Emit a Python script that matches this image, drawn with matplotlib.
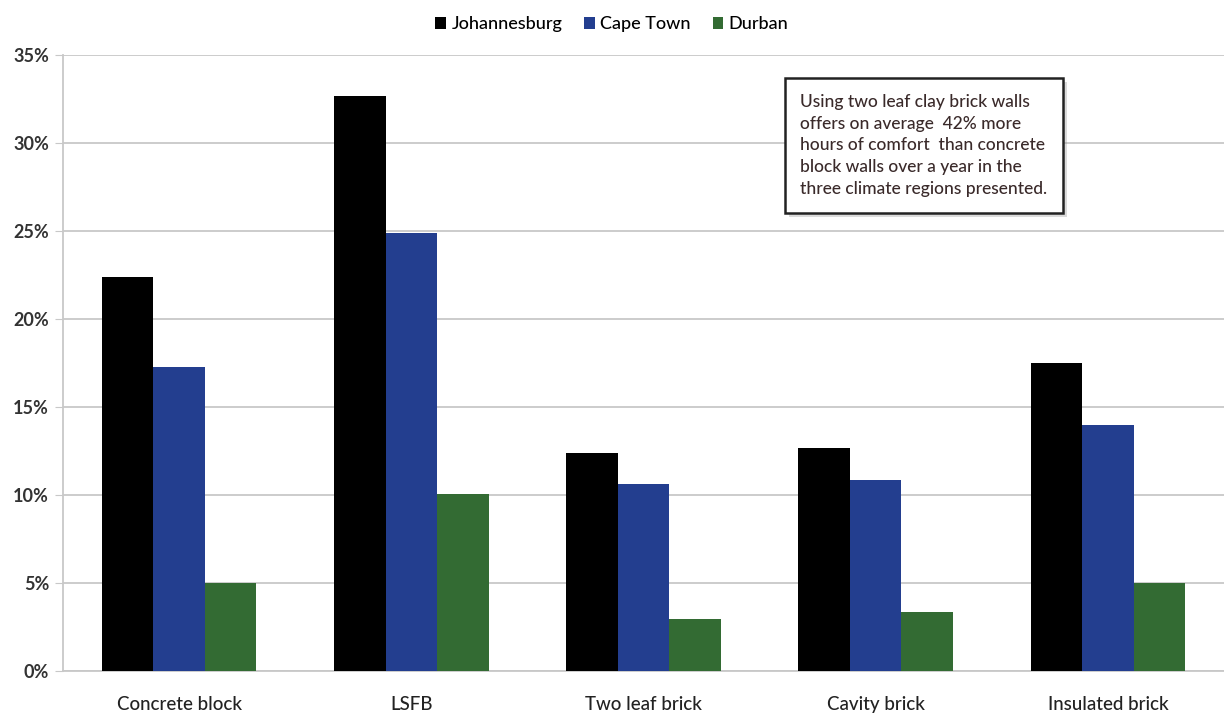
import matplotlib
matplotlib.use('Agg')
import matplotlib.pyplot as plt
import matplotlib.patheffects as pe
import numpy as np
from matplotlib.ticker import PercentFormatter

# Данные
categories = ['Concrete block', 'LSFB', 'Two leaf brick', 'Cavity brick', 'Insulated brick']
johannesburg = [22.4, 32.7, 12.4, 12.7, 17.5]
cape_town = [17.3, 24.9, 10.6, 10.85, 14.0]
durban = [5.0, 10.05, 2.95, 3.35, 5.0]
series_names = ['Johannesburg', 'Cape Town', 'Durban']
colors = ['#000000', '#233E8F', '#336B33']

plt.rcParams['font.family'] = ['Lato', 'DejaVu Sans']

fig = plt.figure(figsize=(12.24, 7.15), dpi=100)
ax = fig.add_axes([0.0515, 0.0615, 0.9485, 0.8615])

x = np.arange(len(categories))
w = 0.222
for i, (vals, name, c) in enumerate(zip([johannesburg, cape_town, durban], series_names, colors)):
    ax.bar(x + (i - 1) * w, vals, width=w, color=c, label=name, zorder=3)

ax.set_xlim(-0.5, len(categories) - 0.5)
ax.set_ylim(0, 35)
ax.set_yticks(np.arange(0, 36, 5))
ax.yaxis.set_major_formatter(PercentFormatter(decimals=0))
ax.set_xticks(x)
ax.set_xticklabels(categories, fontsize=13.5)
ax.grid(axis='y', color='#c8c8c8', linewidth=1.3, zorder=0)
for s in ['top', 'right']:
    ax.spines[s].set_visible(False)
ax.spines['left'].set_color('#c8c8c8')
ax.spines['bottom'].set_color('#c8c8c8')
ax.spines['left'].set_linewidth(1.3)
ax.spines['bottom'].set_linewidth(1.3)
ax.tick_params(axis='y', length=6, color='#c8c8c8', labelsize=13, pad=4)
ax.tick_params(axis='x', length=0, pad=18)
for t in ax.get_yticklabels():
    t.set_fontweight('bold')
    t.set_color('#333333')
for t in ax.get_xticklabels():
    t.set_color('#222222')
    t.set_fontweight('medium')

leg = fig.legend(loc='upper center', bbox_to_anchor=(0.5, 1.0), ncol=3, frameon=False,
                 fontsize=13, handlelength=0.6, handleheight=0.6, handletextpad=0.3,
                 columnspacing=1.2)
for t in leg.get_texts():
    t.set_fontweight('medium')

note = ('Using two leaf clay brick walls\noffers on average  42% more\n'
        'hours of comfort  than concrete\nblock walls over a year in the\n'
        'three climate regions presented.')
ax.text(0.654, 0.869, note, transform=fig.transFigure, fontsize=12.5, va='top', ha='left',
        color='#3a2a2a', linespacing=1.45, zorder=5, fontweight='medium',
        bbox=dict(boxstyle='square,pad=0.9', facecolor='white', edgecolor='#222222',
                  linewidth=1.8,
                  path_effects=[pe.withSimplePatchShadow(offset=(3, -3), shadow_rgbFace='#888888')]))

fig.savefig('out.png', dpi=100)
